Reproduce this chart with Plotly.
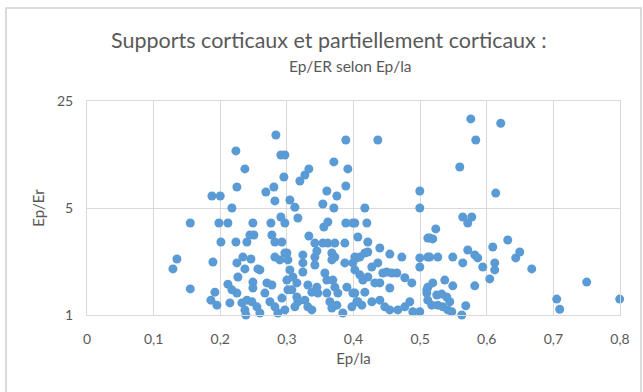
import plotly.graph_objects as go

# Ep/la (x) and Ep/Er (y) for cortical and partially cortical supports
ep_la = [
    0.129, 0.135, 0.155, 0.155, 0.1875, 0.2, 0.189, 0.192, 0.186, 0.195,
    0.198, 0.2115, 0.201, 0.2175, 0.2235, 0.237, 0.225, 0.249, 0.2235, 0.24,
    0.2445, 0.2505, 0.225, 0.234, 0.246, 0.237, 0.2265, 0.2115, 0.2175, 0.225,
    0.249, 0.249, 0.2145, 0.2325, 0.24, 0.2475, 0.237, 0.2385, 0.2565, 0.255,
    0.2595, 0.2595,
    0.2835, 0.291, 0.297, 0.2955, 0.2685, 0.2805, 0.282, 0.3045, 0.276, 0.291,
    0.297, 0.2775, 0.282, 0.2925, 0.282, 0.2895, 0.30, 0.27, 0.2775, 0.267,
    0.2745, 0.282, 0.2925, 0.2865, 0.297, 0.3015,
    0.3885, 0.3705, 0.3915, 0.333, 0.327, 0.3195, 0.3885, 0.36, 0.375, 0.312,
    0.3165, 0.354, 0.3705, 0.3615, 0.3555, 0.3885, 0.399, 0.4065, 0.333, 0.342,
    0.354, 0.3615, 0.372, 0.387, 0.345, 0.342, 0.342, 0.3675, 0.372, 0.3675,
    0.324, 0.324, 0.324, 0.387, 0.399, 0.405, 0.297, 0.3015, 0.3045, 0.30,
    0.309, 0.315, 0.3075, 0.315, 0.357, 0.36, 0.369, 0.372, 0.3315, 0.3375,
    0.345, 0.3465, 0.327, 0.3315, 0.3375, 0.36, 0.3645, 0.3675, 0.375, 0.384,
    0.3765, 0.39, 0.399, 0.405, 0.3975, 0.312, 0.3165,
    0.4365, 0.4995, 0.4995, 0.417, 0.42, 0.402, 0.4215, 0.4215, 0.417, 0.402,
    0.4095, 0.4395, 0.4545, 0.4725, 0.4995, 0.4995, 0.5115, 0.5115, 0.4275, 0.4365,
    0.444, 0.45, 0.4575, 0.465, 0.477, 0.4875, 0.4545, 0.402, 0.4095, 0.414,
    0.4215, 0.432, 0.4395, 0.417, 0.402, 0.4065, 0.4125, 0.4275, 0.4395, 0.447,
    0.4545, 0.4665, 0.477, 0.4845, 0.489, 0.4995, 0.51, 0.5115,
    0.576, 0.621, 0.5835, 0.5595, 0.6135, 0.564, 0.5715, 0.5775, 0.5235, 0.5145,
    0.519, 0.5145, 0.5265, 0.549, 0.564, 0.5715, 0.582, 0.5865, 0.594, 0.609,
    0.612, 0.612, 0.6045, 0.582, 0.537, 0.549, 0.519, 0.5115, 0.51, 0.525,
    0.5325, 0.54, 0.5445, 0.5175, 0.5265, 0.534, 0.5415, 0.5475, 0.5625, 0.5685,
    0.6315, 0.6495, 0.6435, 0.6675, 0.75, 0.705, 0.7095, 0.7995,
]
ep_er = [
    2.00, 2.32, 3.99, 1.48, 5.99, 5.99, 2.22, 1.41, 1.25, 1.16,
    3.99, 3.99, 3.00, 5.00, 11.8, 9.00, 6.86, 3.99, 3.00, 3.00,
    3.33, 3.33, 2.19, 2.39, 2.32, 2.00, 1.77, 1.59, 1.46, 1.39,
    1.64, 1.50, 1.20, 1.20, 1.25, 1.22, 1.08, 1.00, 2.00, 1.13,
    1.97, 1.03,
    15.0, 11.1, 11.1, 7.97, 6.36, 6.86, 5.56, 5.64, 3.99, 4.37,
    3.99, 3.33, 3.00, 3.00, 2.39, 2.29, 2.54, 1.62, 1.57, 1.39,
    1.22, 1.13, 1.29, 1.03, 1.08, 1.46,
    13.9, 10.0, 9.00, 9.00, 8.21, 7.50, 6.96, 6.46, 5.99, 5.06,
    4.30, 5.31, 5.00, 4.05, 3.76, 3.99, 3.99, 3.23, 3.28, 2.95,
    2.95, 2.95, 2.95, 2.95, 2.62, 2.39, 2.12, 2.54, 2.39, 2.29,
    2.47, 2.19, 1.91, 2.19, 2.19, 2.36, 2.54, 2.29, 1.97, 1.69,
    1.77, 1.62, 1.46, 1.31, 1.88, 1.69, 1.69, 1.52, 1.57, 1.41,
    1.52, 1.39, 1.25, 1.13, 1.08, 1.39, 1.22, 1.11, 1.16, 1.03,
    1.39, 1.52, 1.39, 1.22, 1.13, 1.13, 1.22,
    13.9, 6.46, 5.00, 5.00, 3.99, 3.99, 3.00, 2.58, 2.54, 2.39,
    2.39, 2.74, 2.50, 2.39, 2.36, 2.06, 3.18, 2.39, 2.06, 2.19,
    1.88, 1.91, 1.88, 1.88, 1.75, 1.62, 1.50, 1.97, 1.83, 1.69,
    1.77, 1.62, 1.62, 1.41, 1.39, 1.22, 1.16, 1.22, 1.25, 1.13,
    1.08, 1.08, 1.13, 1.22, 1.05, 1.05, 1.46, 1.25,
    19.1, 17.9, 13.9, 9.26, 6.26, 4.37, 3.99, 4.37, 3.65, 3.18,
    3.14, 2.39, 2.39, 2.39, 2.19, 2.66, 2.47, 2.36, 2.06, 2.78,
    2.19, 1.97, 1.72, 1.55, 1.69, 1.55, 1.62, 1.52, 1.39, 1.35,
    1.37, 1.31, 1.22, 1.16, 1.16, 1.13, 1.08, 1.05, 1.00, 1.15,
    3.09, 2.58, 2.36, 2.00, 1.64, 1.27, 1.09, 1.27,
]

x_ticks = [0, 0.1, 0.2, 0.3, 0.4, 0.5, 0.6, 0.7, 0.8]
x_tick_text = ["0", "0,1", "0,2", "0,3", "0,4", "0,5", "0,6", "0,7", "0,8"]
y_ticks = [1, 5, 25]
y_tick_text = ["1", "5", "25"]

title_line1 = "Supports corticaux et partiellement corticaux :"
title_line2 = "Ep/ER selon Ep/la"

FONT = "Lato, Liberation Sans, sans-serif"
TEXT_COLOR = "#595959"
GRID = "#D9D9D9"

fig = go.Figure(
    go.Scatter(
        x=ep_la,
        y=ep_er,
        mode="markers",
        marker=dict(color="#5B9BD5", size=9, line=dict(width=0)),
        cliponaxis=False,
        hoverinfo="x+y",
    )
)

fig.update_layout(
    width=643,
    height=392,
    margin=dict(l=87, r=23, t=101, b=77),
    paper_bgcolor="white",
    plot_bgcolor="white",
    showlegend=False,
    font=dict(family=FONT, color=TEXT_COLOR, size=14),
)

fig.update_xaxes(
    range=[0, 0.8],
    tickvals=x_ticks,
    ticktext=x_tick_text,
    showgrid=True,
    gridcolor=GRID,
    gridwidth=1,
    zeroline=False,
    showline=True,
    linecolor=GRID,
    linewidth=1,
    mirror=True,
    ticks="",
    ticklabelstandoff=11,
    tickfont=dict(size=14, color=TEXT_COLOR),
    title=dict(text="Ep/la", font=dict(size=15, color=TEXT_COLOR), standoff=7),
)

fig.update_yaxes(
    type="log",
    range=[0, 1.39794],
    tickvals=y_ticks,
    ticktext=y_tick_text,
    showgrid=True,
    gridcolor=GRID,
    gridwidth=1,
    zeroline=False,
    showline=True,
    linecolor=GRID,
    linewidth=1,
    mirror=True,
    ticks="",
    ticklabelstandoff=10,
    tickfont=dict(size=14, color=TEXT_COLOR),
    title=dict(text="Ep/Er", font=dict(size=15, color=TEXT_COLOR), standoff=8),
)

# two-line chart title
fig.add_annotation(
    text=title_line1, xref="paper", yref="paper",
    x=(329 - 87) / 533, y=1 + (101 - 40) / 214,
    xanchor="center", yanchor="middle", showarrow=False,
    font=dict(size=21.5, color=TEXT_COLOR, family=FONT),
)
fig.add_annotation(
    text=title_line2, xref="paper", yref="paper",
    x=(350 - 87) / 533, y=1 + (101 - 66) / 214,
    xanchor="center", yanchor="middle", showarrow=False,
    font=dict(size=15.5, color=TEXT_COLOR, family=FONT),
)

# chart area frame
fig.add_shape(
    type="rect", xref="paper", yref="paper",
    x0=(6 - 87) / 533, x1=(641 - 87) / 533,
    y0=-(400 - 315) / 214, y1=1 + (101 - 8) / 214,
    line=dict(color="#D0D0D0", width=1.5), fillcolor="rgba(0,0,0,0)", layer="below",
)

fig.write_html("out.html")
